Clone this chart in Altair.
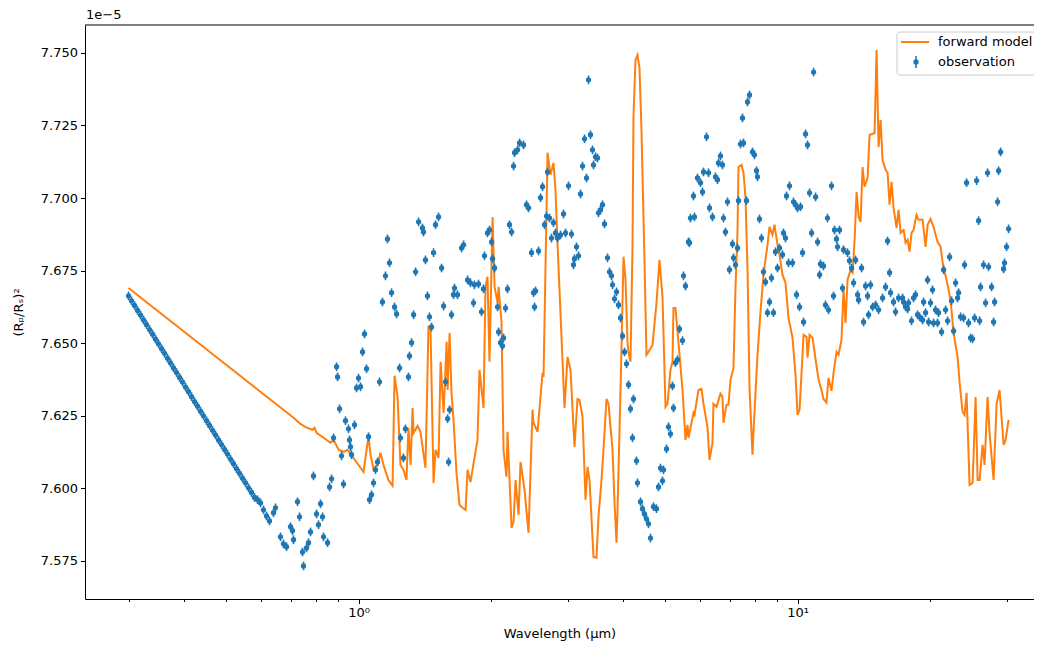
import altair as alt
import pandas as pd

# ---------------- data (values in units of 1e-5) ----------------
obs_wavelength = [
    0.2993, 0.3040, 0.3089, 0.3138, 0.3188, 0.3238, 0.3289, 0.3342, 0.3395, 0.3449,
    0.3503, 0.3559, 0.3615, 0.3673, 0.3731, 0.3790, 0.3850, 0.3911, 0.3973, 0.4036,
    0.4100, 0.4165, 0.4231, 0.4298, 0.4366, 0.4435, 0.4506, 0.4577, 0.4650, 0.4723,
    0.4798, 0.4874, 0.4952, 0.5030, 0.5110, 0.5191, 0.5273, 0.5357, 0.5442, 0.5528,
    0.5616, 0.5705, 0.5795,
    0.5887, 0.5981, 0.6076, 0.6172, 0.6270, 0.6402, 0.6470, 0.6641, 0.6746, 0.6854,
    0.7000, 0.7074, 0.7111, 0.7262, 0.7339, 0.7455, 0.7494, 0.7613, 0.7693, 0.7774,
    0.7897, 0.8023, 0.8107, 0.8194, 0.8280, 0.8324, 0.8501, 0.8590, 0.8681, 0.8773,
    0.8912, 0.8959, 0.9054, 0.9147, 0.9243, 0.9341, 0.9489, 0.9539, 0.9589, 0.9639,
    0.9792, 0.9896, 1.0000, 1.0106, 1.0213, 1.0320, 1.0429, 1.0539, 1.0595, 1.0706,
    1.0819, 1.0933, 1.1049, 1.1165, 1.1338, 1.1518, 1.1640, 1.1763, 1.1892, 1.2081,
    1.2209, 1.2402, 1.2460, 1.2658, 1.2791, 1.2994, 1.3063, 1.3209, 1.3349, 1.3490,
    1.3704, 1.3986, 1.4060, 1.4208, 1.4358, 1.4510, 1.4667, 1.4822, 1.4978, 1.5216,
    1.5461, 1.5624, 1.5789, 1.5956, 1.6040, 1.6124, 1.6285, 1.6457, 1.6544, 1.6806,
    1.7170, 1.7351, 1.7719, 1.7990, 1.8276, 1.8372, 1.8762, 1.9060, 1.9261, 1.9362,
    1.9670, 1.9877, 2.0095, 2.0201, 2.0414, 2.0738, 2.0848, 2.1060, 2.1282, 2.1394,
    2.1620, 2.1849, 2.2079, 2.2317, 2.2552, 2.2671, 2.3031, 2.3274, 2.3761, 2.4138,
    2.4393, 2.4780, 2.5041, 2.5173, 2.5306, 2.5707, 2.5980, 2.6254, 2.6531, 2.6811,
    2.6953, 2.7237, 2.7514, 2.7804, 2.8098, 2.8395, 2.8850, 2.9308, 2.9617, 3.0088,
    3.0560, 3.0882, 3.1045, 3.1373, 3.1704, 3.2040, 3.2378, 3.2720, 3.3065, 3.3415,
    3.3760, 3.4116, 3.4296, 3.4658, 3.5024, 3.5208, 3.5580, 3.5955, 3.6335, 3.6912,
    3.7302, 3.7697, 3.7896, 3.8296, 3.8700, 3.9109, 3.9520, 3.9937, 4.0359, 4.0785,
    4.1216, 4.1640, 4.2079, 4.2301, 4.2972, 4.3199, 4.3880, 4.4343, 4.4811, 4.5284,
    4.5763, 4.6250, 4.6984, 4.7730, 4.8234, 4.8740, 4.9254, 4.9514, 5.0300, 5.0831,
    5.1360, 5.1902, 5.2175, 5.2726, 5.3283, 5.3845, 5.4701, 5.4989, 5.5570, 5.6452,
    5.6749, 5.7040, 5.7945, 5.8250, 5.9176, 6.0120, 6.0754, 6.1074, 6.2044, 6.2700,
    6.3029, 6.4018, 6.5035, 6.5722, 6.6068, 6.6760, 6.7464, 6.7820, 6.8536, 6.9260,
    6.9991, 7.1102, 7.1477, 7.2232, 7.2994, 7.3378, 7.4150, 7.4932, 7.5327, 7.6523,
    7.6926, 7.7738, 7.8964, 7.9798, 8.0640, 8.1066, 8.1921, 8.2783, 8.3657, 8.4541,
    8.5433, 8.6335, 8.7236, 8.8157, 8.9088, 9.0029, 9.0979, 9.2425, 9.2911, 9.3893,
    9.4387, 9.5384, 9.5886, 9.7417, 9.7930, 9.8964, 9.9485, 10.000, 10.107, 10.160,
    10.267, 10.321, 10.430, 10.540, 10.652, 10.766, 10.880, 10.995, 11.111, 11.228,
    11.280, 11.459, 11.580, 11.702, 11.764, 11.953, 12.079, 12.142, 12.270, 12.335,
    12.465, 12.662, 12.729, 12.999, 13.136, 13.279, 13.420, 13.561, 13.705, 13.777,
    13.993, 14.141, 14.290, 14.441, 14.517, 14.670, 14.825, 15.060, 15.299, 15.623,
    15.871, 16.039, 16.208, 16.290, 16.549, 16.723, 16.989, 17.351, 17.443, 17.627,
    17.813, 17.907, 18.185, 18.377, 18.571, 18.767, 18.965, 19.271, 19.373, 19.577,
    19.784, 19.888, 20.090, 20.302, 20.409, 20.624, 20.842, 20.952, 21.291, 21.516,
    21.743, 21.973, 22.205, 22.437, 22.674, 22.914, 23.156, 23.278, 23.520, 23.893,
    24.019, 24.273, 24.529, 24.790, 25.052, 25.316, 25.583, 25.853, 25.990, 26.120,
    26.535, 26.815, 27.098, 27.241, 27.675, 27.967, 28.114, 28.561, 28.711, 29.010,
    29.470, 29.626, 29.938, 30.255,
]
obs_value = [
    7.6663, 7.6646, 7.6630, 7.6613, 7.6597, 7.6580, 7.6564, 7.6547, 7.6531, 7.6514,
    7.6498, 7.6481, 7.6465, 7.6448, 7.6432, 7.6415, 7.6399, 7.6382, 7.6366, 7.6349,
    7.6333, 7.6316, 7.6299, 7.6283, 7.6266, 7.6250, 7.6233, 7.6217, 7.6200, 7.6184,
    7.6167, 7.6151, 7.6134, 7.6118, 7.6101, 7.6085, 7.6068, 7.6052, 7.6035, 7.6019,
    7.6002, 7.5986, 7.5969,
    7.5961, 7.5950, 7.5926, 7.5905, 7.5888, 7.5916, 7.5933, 7.5833, 7.5809, 7.5799,
    7.5868, 7.5854, 7.5823, 7.5954, 7.5902, 7.5781, 7.5733, 7.5795, 7.5813, 7.5850,
    7.6043, 7.5912, 7.5875, 7.5947, 7.5902, 7.5833, 7.5813, 7.6005, 7.6033, 7.6174,
    7.6419, 7.6384, 7.6274, 7.6112, 7.6015, 7.6233, 7.6205, 7.6167, 7.6143, 7.6116,
    7.6219, 7.6346, 7.6380, 7.6350, 7.6470, 7.6532, 7.6412, 7.6178, 7.5961, 7.5978,
    7.6019, 7.6064, 7.6091, 7.6367, 7.6642, 7.6732, 7.6859, 7.6777, 7.6674, 7.6625,
    7.6601, 7.6415, 7.6174, 7.6105, 7.6205, 7.6384, 7.6456, 7.6502, 7.6598, 7.6746,
    7.6918, 7.6897, 7.6883, 7.6787, 7.6663, 7.6591, 7.6556, 7.6812, 7.6908, 7.6935,
    7.6759, 7.6628, 7.6367, 7.6240, 7.6091, 7.6271, 7.6598, 7.6667, 7.6690, 7.6667,
    7.6828, 7.6839, 7.6718, 7.6708, 7.6639, 7.6701, 7.6704, 7.6608, 7.6687, 7.6801,
    7.6880, 7.6890, 7.6849, 7.6791, 7.6759, 7.6625, 7.6539, 7.6502, 7.6491, 7.6518,
    7.6621, 7.6687, 7.6908, 7.6883, 7.7110, 7.7156, 7.7166, 7.7190, 7.7183, 7.6977,
    7.6966, 7.6812, 7.6674, 7.6625, 7.6680, 7.6818, 7.7001, 7.7039, 7.6908, 7.6938,
    7.7090, 7.6931, 7.6862, 7.6915, 7.6880, 7.6862, 7.6873, 7.6945, 7.6880, 7.7042,
    7.6876, 7.6770, 7.6791, 7.6832, 7.6801, 7.7014, 7.7110, 7.7204, 7.7069, 7.7407,
    7.7218, 7.7166, 7.7114, 7.7142, 7.7138, 7.6949, 7.6959, 7.6977, 7.6911, 7.6794,
    7.6746, 7.6732, 7.6701, 7.6653, 7.6677, 7.6632, 7.6587, 7.6525, 7.6470, 7.6429,
    7.6357, 7.6274, 7.6174, 7.6308, 7.6095, 7.6019, 7.5954, 7.5930, 7.5912, 7.5895,
    7.5878, 7.5829, 7.5937, 7.5930, 7.6005, 7.6070, 7.6026, 7.6064, 7.6136, 7.6212,
    7.6188, 7.6353, 7.6277, 7.6433, 7.6443, 7.6549, 7.6509, 7.6732, 7.6697, 7.6849,
    7.6846, 7.6931, 7.7007, 7.6935, 7.7069, 7.7053, 7.7021, 7.7090, 7.7211, 7.7087,
    7.6966, 7.6935, 7.7073, 7.7063, 7.7121, 7.7145, 7.7114, 7.6931, 7.6883, 7.6987,
    7.6753, 7.6842, 7.6794, 7.6770, 7.6828, 7.6991, 7.7186, 7.7276, 7.7190, 7.6991,
    7.7331, 7.7355, 7.7159, 7.7149, 7.7094, 7.7073, 7.6928, 7.6862, 7.6746, 7.6711,
    7.6605, 7.6642, 7.6725, 7.6605, 7.6815, 7.6759, 7.6828, 7.6805, 7.6880, 7.6862,
    7.7007, 7.6777, 7.7042, 7.6777, 7.6987, 7.6977, 7.6667, 7.6966, 7.6625, 7.6970,
    7.6812, 7.6573, 7.7221, 7.7183, 7.7018, 7.6880, 7.7434, 7.7004, 7.6849, 7.6736,
    7.6773, 7.6766, 7.6632, 7.6931, 7.6615, 7.7042, 7.6663, 7.6890, 7.6859, 7.6832,
    7.6890, 7.6690, 7.6822, 7.6812, 7.6784, 7.6759, 7.6708, 7.6787, 7.6667, 7.6649,
    7.6759, 7.6573, 7.6697, 7.6663, 7.6598, 7.6701, 7.6625, 7.6632, 7.6615, 7.6656,
    7.6694, 7.6852, 7.6743, 7.6674, 7.6642, 7.6608, 7.6656, 7.6656, 7.6642, 7.6625,
    7.6618, 7.6639, 7.6577, 7.6656, 7.6667, 7.6598, 7.6591, 7.6580, 7.6642, 7.6605,
    7.6718, 7.6573, 7.6639, 7.6684, 7.6570, 7.6615, 7.6570, 7.6605, 7.6539, 7.6753,
    7.6615, 7.6577, 7.6797, 7.6646, 7.6542, 7.6708, 7.6656, 7.6674, 7.6591, 7.6587,
    7.6770, 7.7053, 7.6570, 7.6518, 7.6515, 7.6587, 7.7060, 7.6922, 7.6577, 7.6694,
    7.6770, 7.6639, 7.7087, 7.6763, 7.6694, 7.6573, 7.6642, 7.6987, 7.7094, 7.7159,
    7.6756, 7.6777, 7.6832, 7.6894,
]
obs_error = 0.0015

model_wavelength = [
    0.2993, 0.7111, 0.7377, 0.7573, 0.7856, 0.7939, 0.8023, 0.8636, 0.8773, 0.9007,
    0.9243, 0.9440, 0.9690, 1.0106, 1.0266, 1.0484, 1.0539, 1.0650, 1.0819, 1.1049,
    1.1220, 1.1398, 1.1701, 1.1955, 1.2081, 1.2273, 1.2460, 1.2658, 1.2859, 1.2994,
    1.3140, 1.3279, 1.3349, 1.3632, 1.3840, 1.4208, 1.4434, 1.4590, 1.4822, 1.4978,
    1.5216, 1.5380, 1.5624, 1.5872, 1.5956, 1.6124, 1.6285, 1.6457, 1.6718, 1.6984,
    1.7260, 1.7534, 1.7719, 1.7990, 1.8180, 1.8469, 1.8664, 1.8861, 1.9261, 1.9464,
    1.9670, 1.9877, 2.0201, 2.0414, 2.0738, 2.0848, 2.1171, 2.1394, 2.1734, 2.1849,
    2.2317, 2.2552, 2.2791, 2.3152, 2.3390, 2.3886, 2.4393, 2.4910, 2.5041, 2.5573,
    2.6254, 2.6392, 2.6953, 2.7370, 2.7804, 2.8098, 2.8395, 2.9462, 2.9930, 3.0400,
    3.1045, 3.1538, 3.1871, 3.2378, 3.2892, 3.3240, 3.3590, 3.4296, 3.4840, 3.5208,
    3.5767, 3.6145, 3.6719, 3.7106, 3.7896, 3.8296, 3.8700, 3.8904, 3.9520, 4.0147,
    4.0572, 4.1000, 4.1216, 4.1640, 4.2079, 4.2301, 4.2748, 4.3199, 4.3655, 4.4111,
    4.4811, 4.5284, 4.5763, 4.6738, 4.7730, 4.8488, 4.9254, 5.0037, 5.0565, 5.1360,
    5.1902, 5.2175, 5.2726, 5.3563, 5.4701, 5.5570, 5.6157, 5.6452, 5.7945, 5.8250,
    5.9487, 6.0436, 6.1074, 6.2371, 6.3029, 6.4018, 6.4355, 6.5377, 6.6760, 6.7464,
    6.7820, 6.8896, 6.9624, 7.0360, 7.1477, 7.2232, 7.2994, 7.3378, 7.4540, 7.5327,
    7.6122, 7.6926, 7.7738, 7.8964, 7.9380, 8.1066, 8.2350, 8.3657, 8.5433, 8.6335,
    8.7696, 8.8621, 9.0029, 9.0979, 9.2425, 9.3893, 9.5384, 9.7417, 9.8964, 10.000,
    10.107, 10.267, 10.321, 10.485, 10.540, 10.652, 10.823, 10.995, 11.169, 11.339,
    11.459, 11.641, 11.764, 11.953, 12.079, 12.270, 12.400, 12.596, 12.729, 12.863,
    12.999, 13.210, 13.349, 13.490, 13.633, 13.777, 13.920, 14.067, 14.215, 14.441,
    14.594, 14.981, 15.139, 15.299, 15.460, 15.623, 15.871, 16.039, 16.208, 16.376,
    16.549, 16.811, 16.989, 17.170, 17.443, 17.627, 17.813, 18.001, 18.185, 18.377,
    18.669, 18.866, 19.271, 19.577, 19.784, 20.090, 20.409, 20.842, 21.180, 21.403,
    21.629, 21.973, 22.320, 22.674, 23.156, 23.400, 23.768, 24.019, 24.273, 24.658,
    25.052, 25.449, 25.718, 25.990, 26.396, 26.674, 27.098, 27.384, 27.967, 28.411,
    28.862, 29.470, 29.782, 30.255,
]
model_value = [
    7.6690, 7.6243, 7.6222, 7.6211, 7.6202, 7.6209, 7.6191, 7.6157, 7.6167, 7.6133,
    7.6126, 7.6133, 7.6109, 7.6071, 7.6057, 7.6157, 7.6178, 7.6116, 7.6064, 7.6081,
    7.6123, 7.6081, 7.6029, 7.6009, 7.6388, 7.6315, 7.6081, 7.6064, 7.6029, 7.6209,
    7.6081, 7.6277, 7.6191, 7.6215, 7.6195, 7.6071, 7.6560, 7.6546, 7.6019, 7.6133,
    7.6105, 7.6436, 7.6260, 7.6505, 7.6339, 7.6535, 7.6329, 7.6236, 7.6053, 7.5943,
    7.5933, 7.5926, 7.6064, 7.6022, 7.6064, 7.6126, 7.6167, 7.6408, 7.6277, 7.6694,
    7.6729, 7.6436, 7.6935, 7.6694, 7.6639, 7.6694, 7.6570, 7.6133, 7.6040, 7.6195,
    7.5864, 7.5885, 7.6029, 7.5909, 7.6091, 7.5995, 7.5847, 7.6271, 7.6226, 7.6195,
    7.6398, 7.6384, 7.7156, 7.7080, 7.7121, 7.7028, 7.6846, 7.6277, 7.6453, 7.6408,
    7.6143, 7.6308, 7.6305, 7.6247, 7.5961, 7.6074, 7.6029, 7.5764, 7.5761, 7.5902,
    7.6029, 7.6133, 7.6308, 7.6291, 7.6133, 7.5950, 7.5813, 7.5926, 7.6339, 7.6798,
    7.6718, 7.6502, 7.6467, 7.6436, 7.6822, 7.7280, 7.7476, 7.7493, 7.7448, 7.7235,
    7.6787, 7.6460, 7.6470, 7.6494, 7.6639, 7.6787, 7.6659, 7.6281, 7.6291, 7.6408,
    7.6436, 7.6621, 7.6621, 7.6502, 7.6339, 7.6167, 7.6219, 7.6174, 7.6260, 7.6253,
    7.6339, 7.6343, 7.6291, 7.6211, 7.6098, 7.6157, 7.6291, 7.6281, 7.6326, 7.6315,
    7.6226, 7.6288, 7.6288, 7.6374, 7.6415, 7.6690, 7.6883, 7.7107, 7.7114, 7.7087,
    7.7001, 7.6759, 7.6346, 7.6116, 7.6195, 7.6460, 7.6608, 7.6736, 7.6839, 7.6901,
    7.6873, 7.6908, 7.6839, 7.6805, 7.6736, 7.6708, 7.6587, 7.6518, 7.6391, 7.6253,
    7.6271, 7.6460, 7.6529, 7.6522, 7.6450, 7.6529, 7.6518, 7.6443, 7.6374, 7.6339,
    7.6308, 7.6295, 7.6380, 7.6336, 7.6398, 7.6470, 7.6460, 7.6512, 7.6684, 7.6570,
    7.6718, 7.6753, 7.6743, 7.6856, 7.7021, 7.6935, 7.6918, 7.7107, 7.7039, 7.7070,
    7.7217, 7.7224, 7.7510, 7.7176, 7.7269, 7.7131, 7.7097, 7.7087, 7.6977, 7.7056,
    7.6966, 7.6897, 7.6959, 7.6880, 7.6890, 7.6846, 7.6856, 7.6815, 7.6880, 7.6890,
    7.6942, 7.6925, 7.6925, 7.6832, 7.6908, 7.6928, 7.6901, 7.6849, 7.6832, 7.6780,
    7.6746, 7.6701, 7.6649, 7.6535, 7.6453, 7.6364, 7.6264, 7.6253, 7.6329, 7.6012,
    7.6019, 7.6315, 7.6029, 7.6029, 7.6150, 7.6081, 7.6315, 7.6191, 7.6029, 7.6291,
    7.6339, 7.6150, 7.6167, 7.6236,
]

y_ticks = [7.575, 7.600, 7.625, 7.650, 7.675, 7.700, 7.725, 7.750]
x_ticks = [0.3, 0.4, 0.5, 0.6, 0.7, 0.8, 0.9, 1, 2, 3, 4, 5, 6, 7, 8, 9, 10, 20, 30]

# ---------------- tables ----------------
obs = pd.DataFrame({"wavelength": obs_wavelength, "value": obs_value})
obs["lo"] = obs["value"] - obs_error
obs["hi"] = obs["value"] + obs_error
model = pd.DataFrame({"wavelength": model_wavelength, "value": model_value})

FONT = "DejaVu Sans"
BLUE = "#1f77b4"
ORANGE = "#ff7f0e"
W, H = 949, 574

xscale = alt.Scale(type="log", domain=[0.2382, 34.57], nice=False)
yscale = alt.Scale(domain=[7.5619, 7.7596], nice=False, zero=False)

xaxis = alt.Axis(
    values=x_ticks,
    labelExpr="datum.value == 1 ? '10⁰' : (datum.value == 10 ? '10¹' : '')",
    title="Wavelength (μm)",
    grid=False,
    tickSize={"condition": {"test": "datum.value == 1 || datum.value == 10", "value": 4.5}, "value": 2.5},
    tickWidth=1,
    labelPadding=3,
    titlePadding=8,
    labelFlush=False,
    labelOverlap=False,
)
yaxis = alt.Axis(
    values=y_ticks,
    format=".3f",
    title="(Rₚ/Rₛ)²",
    grid=False,
    tickSize=4.5,
    tickWidth=1,
    labelPadding=3,
    titlePadding=15,
)

X = alt.X("wavelength:Q", scale=xscale, axis=xaxis)

line = alt.Chart(model).mark_line(color=ORANGE, strokeWidth=2, clip=True).encode(
    x=X, y=alt.Y("value:Q", scale=yscale, axis=yaxis)
)
bars = alt.Chart(obs).mark_rule(color=BLUE, strokeWidth=1.6, clip=True).encode(
    x=X, y=alt.Y("lo:Q", scale=yscale, axis=yaxis), y2="hi:Q"
)
points = alt.Chart(obs).mark_circle(color=BLUE, size=28, opacity=1, clip=True).encode(
    x=X, y=alt.Y("value:Q", scale=yscale, axis=yaxis)
)

one = alt.Data(values=[{"k": 0}])
top_spine = alt.Chart(one).mark_rule(color="black", strokeWidth=1).encode(
    x=alt.value(0), x2=alt.value(W + 10), y=alt.value(0)
)
offset_text = alt.Chart(one).mark_text(
    align="left", baseline="middle", font=FONT, fontSize=13, color="black"
).encode(x=alt.value(1), y=alt.value(-10), text=alt.value("1e−5"))

legend_box = alt.Chart(one).mark_rect(
    fill="white", fillOpacity=0.85, stroke="#cccccc", strokeWidth=1, cornerRadius=3
).encode(x=alt.value(812), x2=alt.value(W + 20), y=alt.value(7), y2=alt.value(50))
legend_line = alt.Chart(one).mark_rule(color=ORANGE, strokeWidth=2).encode(
    x=alt.value(816), x2=alt.value(844), y=alt.value(17)
)
legend_bar = alt.Chart(one).mark_rule(color=BLUE, strokeWidth=1.6).encode(
    x=alt.value(831), y=alt.value(31), y2=alt.value(43)
)
legend_pt = alt.Chart(one).mark_circle(color=BLUE, size=28, opacity=1).encode(
    x=alt.value(831), y=alt.value(37)
)
legend_t1 = alt.Chart(one).mark_text(
    align="left", baseline="middle", font=FONT, fontSize=13, color="black"
).encode(x=alt.value(853), y=alt.value(17), text=alt.value("forward model"))
legend_t2 = alt.Chart(one).mark_text(
    align="left", baseline="middle", font=FONT, fontSize=13, color="black"
).encode(x=alt.value(853), y=alt.value(37), text=alt.value("observation"))

chart = alt.layer(
    line, bars, points, top_spine, offset_text,
    legend_box, legend_line, legend_bar, legend_pt, legend_t1, legend_t2,
).properties(
    width=W,
    height=H,
    autosize=alt.AutoSizeParams(type="none"),
    padding={"left": 77, "top": 17, "right": 0, "bottom": 43},
).configure_view(
    stroke=None
).configure_axis(
    domainColor="black", domainWidth=1, tickColor="black",
    labelColor="black", titleColor="black",
    labelFont=FONT, titleFont=FONT, labelFontSize=13, titleFontSize=13,
    titleFontWeight="normal",
)

chart.save("out.html", embed_options={"renderer": "svg", "actions": False})
